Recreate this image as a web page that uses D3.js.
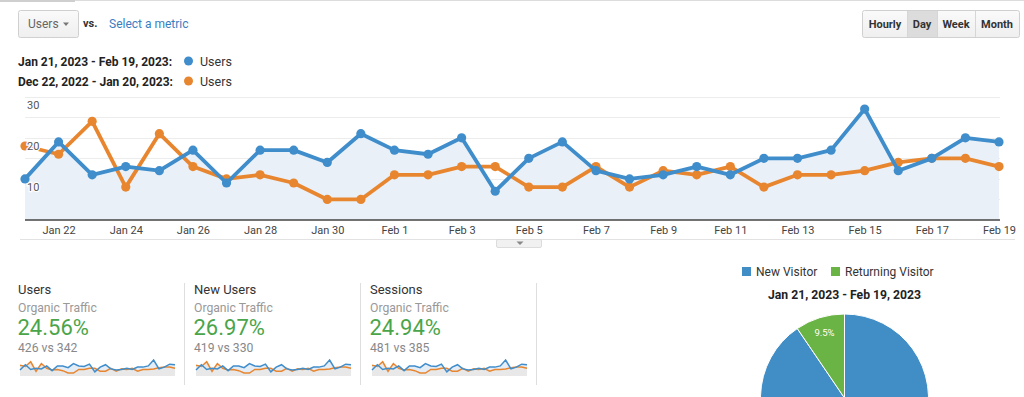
<!DOCTYPE html>
<html>
<head>
<meta charset="utf-8">
<script src="https://cdn.jsdelivr.net/npm/d3@7"></script>
<style>
  html, body { margin: 0; padding: 0; background: #fff; }
  svg { display: block; font-family: Roboto, "Helvetica Neue", Arial, sans-serif; }
</style>
</head>
<body>
<svg id="chart" width="1024" height="397"></svg>
<script>
// 日期（类别）
const days = ['Jan 21','Jan 22','Jan 23','Jan 24','Jan 25','Jan 26','Jan 27','Jan 28','Jan 29','Jan 30',
  'Jan 31','Feb 1','Feb 2','Feb 3','Feb 4','Feb 5','Feb 6','Feb 7','Feb 8','Feb 9',
  'Feb 10','Feb 11','Feb 12','Feb 13','Feb 14','Feb 15','Feb 16','Feb 17','Feb 18','Feb 19'];
const xTickLabels = ['Jan 22','Jan 24','Jan 26','Jan 28','Jan 30','Feb 1','Feb 3','Feb 5','Feb 7',
  'Feb 9','Feb 11','Feb 13','Feb 15','Feb 17','Feb 19'];
const yGridValues = [0, 5, 10, 15, 20, 25, 30];
const yTickLabels = [10, 20, 30];

// 当前周期 Jan 21 - Feb 19
const usersCurrent = [10, 19, 11, 13, 12, 17, 9, 17, 17, 14, 21, 17, 16, 20, 7, 15, 19, 12, 10, 11,
  13, 11, 15, 15, 17, 27, 12, 15, 20, 19];
// 对比周期 Dec 22 - Jan 20
const usersPrevious = [18, 16, 24, 8, 21, 13, 10, 11, 9, 5, 5, 11, 11, 13, 13, 8, 8, 13, 8, 12,
  11, 13, 8, 11, 11, 12, 14, 15, 15, 13];

// 指标卡片
const metricNames = ['Users', 'New Users', 'Sessions'];
const metricChanges = ['24.56%', '26.97%', '24.94%'];
const metricCompare = ['426 vs 342', '419 vs 330', '481 vs 385'];

// 饼图
const visitorTypes = ['New Visitor', 'Returning Visitor'];
const visitorShares = [90.5, 9.5];

const periodLabels = ['Jan 21, 2023 - Feb 19, 2023:', 'Dec 22, 2022 - Jan 20, 2023:'];
const intervalButtons = ['Hourly', 'Day', 'Week', 'Month'];

const BLUE = '#3f8dcb';
const ORANGE = '#e8862f';
const GREEN_TXT = '#4aa54a';

const svg = d3.select('#chart');

// 顶部边线
svg.append('line').attr('x1', 0).attr('x2', 1024).attr('y1', 0.5).attr('y2', 0.5)
  .attr('stroke', '#dcdcdc').attr('stroke-width', 1);
svg.append('line').attr('x1', 0).attr('x2', 75).attr('y1', 1).attr('y2', 1)
  .attr('stroke', '#cfcfcf').attr('stroke-width', 2);

// 下拉框 Users
const grad = svg.append('defs').append('linearGradient')
  .attr('id', 'btnGrad').attr('x1', 0).attr('x2', 0).attr('y1', 0).attr('y2', 1);
grad.append('stop').attr('offset', '0%').attr('stop-color', '#fafafa');
grad.append('stop').attr('offset', '100%').attr('stop-color', '#efefef');

svg.append('rect').attr('x', 18.5).attr('y', 10.5).attr('width', 60).attr('height', 27)
  .attr('rx', 2).attr('fill', 'url(#btnGrad)').attr('stroke', '#d0d0d0');
svg.append('text').attr('x', 28).attr('y', 27.5).attr('fill', '#666')
  .style('font-size', '12px').text('Users');
svg.append('path').attr('d', 'M63,22.5L69,22.5L66,26Z').attr('fill', '#777');
svg.append('text').attr('x', 83).attr('y', 26.5).attr('fill', '#333')
  .style('font-size', '11px').style('font-weight', 'bold').text('vs.');
svg.append('text').attr('x', 109).attr('y', 27.5).attr('fill', '#3a7dbf')
  .style('font-size', '12px').text('Select a metric');

// 时间间隔按钮
const btnEdges = [863, 907, 937, 975, 1019];
const btnG = svg.append('g');
btnG.append('rect').attr('x', 862.5).attr('y', 10.5).attr('width', 157).attr('height', 27)
  .attr('rx', 2).attr('fill', 'url(#btnGrad)').attr('stroke', '#d0d0d0');
intervalButtons.forEach((b, i) => {
  const x0 = btnEdges[i], x1 = btnEdges[i + 1];
  if (b === 'Day') {
    btnG.append('rect').attr('x', x0).attr('y', 11).attr('width', x1 - x0).attr('height', 26)
      .attr('fill', '#dcdcdc');
  }
  if (i > 0) {
    btnG.append('line').attr('x1', x0 + 0.5).attr('x2', x0 + 0.5).attr('y1', 11).attr('y2', 37)
      .attr('stroke', '#d6d6d6');
  }
  btnG.append('text').attr('x', (x0 + x1) / 2).attr('y', 28).attr('text-anchor', 'middle')
    .attr('fill', '#333').style('font-size', '11px').style('font-weight', 'bold').text(b);
});

// 图例
[BLUE, ORANGE].forEach((c, i) => {
  const y = 65.5 + i * 20;
  svg.append('text').attr('x', 18).attr('y', y).attr('fill', '#222')
    .style('font-size', '12px').style('font-weight', 'bold').text(periodLabels[i]);
  svg.append('circle').attr('cx', 188.5).attr('cy', y - 4.5).attr('r', 4.5).attr('fill', c);
  svg.append('text').attr('x', 200).attr('y', y).attr('fill', '#333')
    .style('font-size', '12.5px').text('Users');
});

// 主折线图
const x = d3.scalePoint().domain(days).range([25, 999]);
const y = d3.scaleLinear().domain([0, 30]).range([220, 96.7]);

const plot = svg.append('g');

// 网格线
plot.append('g').selectAll('line').data(yGridValues.filter(v => v > 0)).enter().append('line')
  .attr('x1', 25).attr('x2', 1000)
  .attr('y1', d => Math.round(y(d)) + 0.5).attr('y2', d => Math.round(y(d)) + 0.5)
  .attr('stroke', '#ececec');

// 面积
const area = d3.area().x((d, i) => x(days[i])).y0(y(0)).y1(d => y(d));
plot.append('path').datum(usersCurrent).attr('d', area).attr('fill', '#e9f0f8');

// 坐标轴底线
plot.append('line').attr('x1', 25).attr('x2', 1000).attr('y1', 220).attr('y2', 220)
  .attr('stroke', '#444').attr('stroke-width', 1.5);

const line = d3.line().x((d, i) => x(days[i])).y(d => y(d));
[[usersPrevious, ORANGE], [usersCurrent, BLUE]].forEach(([data, c]) => {
  plot.append('path').datum(data).attr('d', line).attr('fill', 'none')
    .attr('stroke', c).attr('stroke-width', 3.8).attr('stroke-linejoin', 'round');
  plot.append('g').selectAll('circle').data(data).enter().append('circle')
    .attr('cx', (d, i) => x(days[i])).attr('cy', d => y(d)).attr('r', 4.6).attr('fill', c);
});

// Y 轴标签（网格线下方）
plot.append('g').selectAll('text').data(yTickLabels).enter().append('text')
  .attr('x', 27).attr('y', d => y(d) + 12)
  .attr('fill', '#555').attr('stroke', '#fff').attr('stroke-width', 2.5)
  .style('paint-order', 'stroke').style('font-size', '11px').text(d => d);

// X 轴
const xAxis = d3.axisBottom(x).tickValues(xTickLabels).tickSize(0).tickPadding(6);
svg.append('g').attr('transform', 'translate(0,220)').call(xAxis)
  .call(g => {
    g.select('.domain').remove();
    g.selectAll('.tick text').attr('fill', '#444').style('font-size', '11px')
      .style('font-family', 'Roboto, Arial, sans-serif');
  });

svg.append('line').attr('x1', 20).attr('x2', 1015).attr('y1', 239.5).attr('y2', 239.5)
  .attr('stroke', '#e2e2e2');
svg.append('rect').attr('x', 496.5).attr('y', 239.5).attr('width', 45).attr('height', 8)
  .attr('rx', 1.5).attr('fill', '#f1f1f1').attr('stroke', '#dcdcdc');
svg.append('path').attr('d', 'M516.5,241.5L523.5,241.5L520,245Z').attr('fill', '#888');

// 指标卡片
const colX = [18, 194, 370];
const sx = d3.scalePoint().domain(days).range([0, 155]);
const sy = d3.scaleLinear().domain([0, 27]).range([376, 360]);
const sArea = d3.area().x((d, i) => sx(days[i])).y0(376).y1(d => sy(d));
const sLine = d3.line().x((d, i) => sx(days[i])).y(d => sy(d));

metricNames.forEach((name, i) => {
  const g = svg.append('g').attr('transform', `translate(${colX[i]},0)`);
  g.append('text').attr('x', 0).attr('y', 294).attr('fill', '#333')
    .style('font-size', '13px').text(name);
  g.append('text').attr('x', 0).attr('y', 312).attr('fill', '#999')
    .style('font-size', '12.2px').text('Organic Traffic');
  g.append('text').attr('x', -0.5).attr('y', 335).attr('fill', GREEN_TXT)
    .style('font-size', '22px').text(metricChanges[i]);
  g.append('text').attr('x', 0).attr('y', 352).attr('fill', '#888')
    .style('font-size', '12.2px').text(metricCompare[i]);

  const sp = g.append('g').attr('transform', 'translate(2,0)');
  sp.append('path').datum(usersCurrent).attr('d', sArea).attr('fill', '#e4ecf5');
  sp.append('path').datum(usersPrevious).attr('d', sArea).attr('fill', '#e8e8e8');
  sp.append('path').datum(usersPrevious).attr('d', sLine).attr('fill', 'none')
    .attr('stroke', ORANGE).attr('stroke-width', 1.5);
  sp.append('path').datum(usersCurrent).attr('d', sLine).attr('fill', 'none')
    .attr('stroke', BLUE).attr('stroke-width', 1.5);

  svg.append('line').attr('x1', colX[i] + 166.5).attr('x2', colX[i] + 166.5)
    .attr('y1', 283).attr('y2', 385).attr('stroke', '#dedede');
});

// 饼图
const pieColors = ['#418dc6', '#6ab345'];
const legendX = [742, 831];
visitorTypes.forEach((t, i) => {
  svg.append('rect').attr('x', legendX[i]).attr('y', 267).attr('width', 9).attr('height', 9)
    .attr('fill', pieColors[i]);
  svg.append('text').attr('x', legendX[i] + 14).attr('y', 276).attr('fill', '#333')
    .style('font-size', '12px').text(t);
});
svg.append('text').attr('x', 844.5).attr('y', 299).attr('text-anchor', 'middle')
  .attr('fill', '#222').style('font-size', '12.2px').style('font-weight', 'bold')
  .text('Jan 21, 2023 - Feb 19, 2023');

const pie = d3.pie().sort(null).value(d => d);
const arc = d3.arc().innerRadius(0).outerRadius(84);
const labelArc = d3.arc().innerRadius(68).outerRadius(68);
const pieG = svg.append('g').attr('transform', 'translate(844.5,398)');
const slices = pie(visitorShares);
pieG.selectAll('path').data(slices).enter().append('path')
  .attr('d', arc).attr('fill', (d, i) => pieColors[i])
  .attr('stroke', '#fff').attr('stroke-width', 1);
pieG.selectAll('text').data(slices.filter((d, i) => i === 1)).enter().append('text')
  .attr('transform', d => `translate(${labelArc.centroid(d)})`)
  .attr('text-anchor', 'middle').attr('dy', '0.35em')
  .attr('fill', '#fff').style('font-size', '9.5px')
  .text(d => d.data + '%');
</script>
</body>
</html>
